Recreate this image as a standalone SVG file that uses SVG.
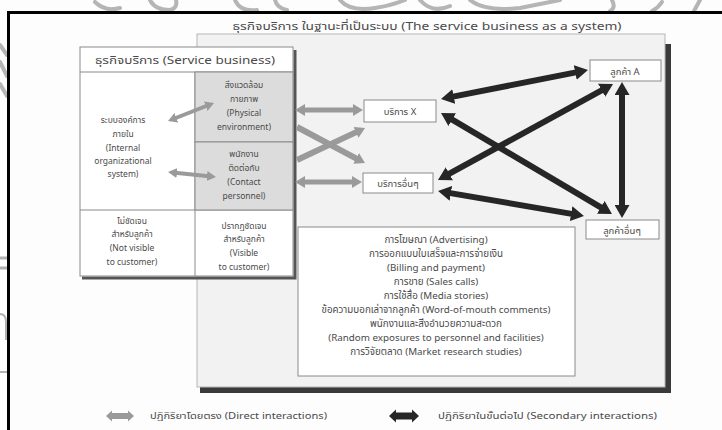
<svg xmlns="http://www.w3.org/2000/svg" width="722" height="430" viewBox="0 0 722 430">
<defs>
<style>
text{font-family:"Noto Sans Thai","Noto Sans","DejaVu Sans","Liberation Sans",sans-serif;fill:#4a4a4a;text-anchor:middle}
.t9{font-size:9.5px}
.tl{font-size:9.8px}
.t8{font-size:8.5px}
.hd{font-size:10.5px}
.ttl{font-size:11px}
.lg{font-size:9px}
.box{fill:#fff;stroke:#8a8a8a;stroke-width:1}
.shade{fill:#dcdcdc;stroke:#8a8a8a;stroke-width:1}
.ga{stroke:#9a9a9a;fill:none}
.ba{stroke:#262626;stroke-width:6;fill:none;marker-start:url(#hb);marker-end:url(#hb)}
.wm{stroke:#b5b5b5;fill:none;stroke-width:4;stroke-linecap:round}
</style>
<marker id="hg" viewBox="0 0 10 12" refX="2" refY="6" markerWidth="10" markerHeight="12" markerUnits="userSpaceOnUse" orient="auto-start-reverse"><path d="M0,0 L10,6 L0,12 z" fill="#9a9a9a"/></marker>
<marker id="hgs" viewBox="0 0 9 10" refX="2" refY="5" markerWidth="9" markerHeight="10" markerUnits="userSpaceOnUse" orient="auto-start-reverse"><path d="M0,0 L9,5 L0,10 z" fill="#9a9a9a"/></marker>
<marker id="hb" viewBox="0 0 13 15" refX="2" refY="7.5" markerWidth="13" markerHeight="15" markerUnits="userSpaceOnUse" orient="auto-start-reverse"><path d="M0,0 L13,7.5 L0,15 z" fill="#262626"/></marker>
</defs>
<rect width="722" height="430" fill="#fdfdfd"/>
<!-- watermark fragments -->
<g id="watermark">
<path class="wm" d="M95,2 q10,10 25,6 M150,0 q5,10 20,10 q8,-2 6,-10 M235,0 q5,12 22,10 M275,0 q2,8 12,10 M340,0 q10,12 35,8 q15,-2 30,-8 M420,0 q12,14 30,6 M470,0 q15,12 50,8 q20,-4 40,-8 M612,0 q4,8 -2,11 M662,2 q-4,6 -10,9 M700,0 l-6,11"/>
<path class="wm" d="M0,45 l7,10 M0,62 l7,14 M0,84 l7,12" stroke-width="3"/>
<path d="M0,258 h7 M0,268 h7" stroke="#b0b0b0" stroke-width="3"/>
<path d="M0,314 q6,0 6,8 v18" stroke="#b0b0b0" stroke-width="2" fill="none"/>
<path d="M0,372 h7" stroke="#b0b0b0" stroke-width="2"/>
</g>
<!-- page frame -->
<path d="M8.5,430 V12.5 H722" fill="none" stroke="#000" stroke-width="3"/>
<!-- title -->
<text class="ttl" x="427" y="30" textLength="389" lengthAdjust="spacingAndGlyphs">ธุรกิจบริการ ในฐานะที่เป็นระบบ (The service business as a system)</text>
<!-- big panel -->
<g id="panel">
<path d="M200,390 H668 V44" fill="none" stroke="#3a3a3a" stroke-width="6"/>
<rect x="197" y="34" width="468" height="353" fill="#f2f2f2" stroke="#b5b5b5" stroke-width="1"/>
</g>
<!-- service business box -->
<g id="service-business">
<path d="M82,278 H295 V50" fill="none" stroke="#555" stroke-width="3"/>
<rect class="box" x="80" y="47" width="213" height="229"/>
<line x1="80" y1="72" x2="293" y2="72" stroke="#8a8a8a"/>
<text class="hd" x="185" y="64" textLength="180" lengthAdjust="spacingAndGlyphs">ธุรกิจบริการ (Service business)</text>
<line x1="80" y1="210" x2="293" y2="210" stroke="#8a8a8a"/>
<line x1="195" y1="72" x2="195" y2="276" stroke="#8a8a8a"/>
</g>
<g id="internal-system">
<text class="t8" x="123" y="123">ระบบองค์การ</text>
<text class="t8" x="123" y="137">ภายใน</text>
<text class="t8" x="123" y="151">(Internal</text>
<text class="t8" x="123" y="164">organizational</text>
<text class="t8" x="123" y="177">system)</text>
</g>
<g id="physical-environment">
<rect class="shade" x="195" y="72" width="98" height="70"/>
<text class="t8" x="244" y="88">สิ่งแวดล้อม</text>
<text class="t8" x="244" y="102">กายภาพ</text>
<text class="t8" x="244" y="116">(Physical</text>
<text class="t8" x="244" y="130">environment)</text>
</g>
<g id="contact-personnel">
<rect class="shade" x="195" y="142" width="98" height="68"/>
<text class="t8" x="244" y="157">พนักงาน</text>
<text class="t8" x="244" y="171">ติดต่อกับ</text>
<text class="t8" x="244" y="185">(Contact</text>
<text class="t8" x="244" y="199">personnel)</text>
</g>
<g id="not-visible">
<text class="t8" x="132" y="224">ไม่ชัดเจน</text>
<text class="t8" x="132" y="237">สำหรับลูกค้า</text>
<text class="t8" x="132" y="251">(Not visible</text>
<text class="t8" x="132" y="265">to customer)</text>
</g>
<g id="visible">
<text class="t8" x="244" y="229">ปรากฏชัดเจน</text>
<text class="t8" x="244" y="242">สำหรับลูกค้า</text>
<text class="t8" x="244" y="256">(Visible</text>
<text class="t8" x="244" y="270">to customer)</text>
</g>
<g id="service-x">
<rect class="box" x="364" y="100" width="72" height="22"/>
<text class="t9" x="400" y="114.5">บริการ X</text>
</g>
<g id="other-services">
<rect class="box" x="363" y="173" width="70" height="20"/>
<text class="t9" x="398" y="186.5">บริการอื่นๆ</text>
</g>
<g id="customer-a">
<rect class="box" x="590" y="60" width="71" height="21"/>
<text class="t9" x="625" y="74.5">ลูกค้า A</text>
</g>
<g id="other-customers">
<rect class="box" x="586" y="220" width="73" height="19"/>
<text class="t9" x="622" y="233.5">ลูกค้าอื่นๆ</text>
</g>
<g id="contact-list">
<rect class="box" x="298" y="227" width="277" height="149"/>
<text class="tl" x="436" y="243">การโฆษณา (Advertising)</text>
<text class="tl" x="436" y="257">การออกแบบใบเสร็จและการจ่ายเงิน</text>
<text class="tl" x="436" y="271">(Billing and payment)</text>
<text class="tl" x="436" y="285">การขาย (Sales calls)</text>
<text class="tl" x="436" y="299">การใช้สื่อ (Media stories)</text>
<text class="tl" x="436" y="313">ข้อความบอกเล่าจากลูกค้า (Word-of-mouth comments)</text>
<text class="tl" x="436" y="327">พนักงานและสิ่งอำนวยความสะดวก</text>
<text class="tl" x="436" y="341">(Random exposures to personnel and facilities)</text>
<text class="tl" x="436" y="355">การวิจัยตลาด (Market research studies)</text>
</g>
<g id="connectors">
<path class="ga" stroke-width="4" d="M174.5,118.5 L207.5,105.5" marker-start="url(#hgs)" marker-end="url(#hgs)"/>
<path class="ga" stroke-width="4" d="M175,172.7 L209,176.3" marker-start="url(#hgs)" marker-end="url(#hgs)"/>
<path class="ga" stroke-width="5" d="M303,110 L355,110" marker-start="url(#hg)" marker-end="url(#hg)"/>
<path class="ga" stroke-width="5" d="M303,182 L354,182" marker-start="url(#hg)" marker-end="url(#hg)"/>
<path class="ga" stroke-width="6" d="M297,127 L357.9,159.3" marker-end="url(#hg)"/>
<path class="ga" stroke-width="6" d="M297,160 L357.8,131.4" marker-end="url(#hg)"/>
<path class="ba" d="M451.8,96.9 L577.2,72.1"/>
<path class="ba" d="M450.5,118.6 L602.5,208.4"/>
<path class="ba" d="M447.6,174.7 L603.4,89.3"/>
<path class="ba" d="M448.9,192.9 L573.1,214.1"/>
<path class="ba" d="M622,93 L622,207"/>
</g>
<g id="legend">
<polygon points="106,416 112,410.5 112,413 128,413 128,410.5 134,416 128,421.5 128,419 112,419 112,421.5" fill="#9a9a9a"/>
<text class="lg" x="150" y="419" style="text-anchor:start" textLength="177" lengthAdjust="spacingAndGlyphs">ปฏิกิริยาโดยตรง (Direct interactions)</text>
<polygon points="389,416 396,409.5 396,412.5 412,412.5 412,409.5 419,416 412,422.5 412,419.5 396,419.5 396,422.5" fill="#262626"/>
<text class="lg" x="438" y="419" style="text-anchor:start" textLength="219" lengthAdjust="spacingAndGlyphs">ปฏิกิริยาในขั้นต่อไป (Secondary interactions)</text>
</g>
</svg>
